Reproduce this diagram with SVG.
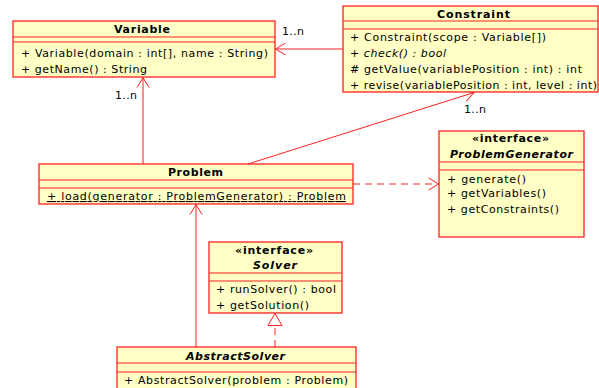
<svg xmlns="http://www.w3.org/2000/svg" width="599" height="388" viewBox="0 0 599 388">
<defs>
<style>
.box{fill:#FFFFC6;stroke:#FF2020;stroke-width:1.3}
.sep{stroke:#FF2020;stroke-width:1.2;fill:none}
.t{font-family:"DejaVu Sans",sans-serif;font-size:11px;fill:#000}
.b{font-weight:bold}
.i{font-style:italic}
.m{text-anchor:middle}
.e{stroke:#FF2020;stroke-width:1;fill:none}
.d{stroke-dasharray:7,5}
</style>
<marker id="open" markerUnits="userSpaceOnUse" viewBox="-11 -7 12 14" refX="0" refY="0" markerWidth="12" markerHeight="14" orient="auto">
<path d="M-10,-6 L0,0 L-10,6" fill="none" stroke="#FF2020" stroke-width="1"/>
</marker>
<marker id="tri" markerUnits="userSpaceOnUse" viewBox="-14 -9 15 18" refX="0" refY="0" markerWidth="15" markerHeight="18" orient="auto">
<path d="M-12,-7 L0,0 L-12,7 Z" fill="#fff" stroke="#FF2020" stroke-width="1"/>
</marker>
</defs>
<rect width="599" height="388" fill="#fff"/>
<g id="connectors">
<line class="e" x1="343" y1="49" x2="275.5" y2="49" marker-end="url(#open)"/>
<text class="t" x="282" y="35" textLength="22" lengthAdjust="spacing">1..n</text>
<line class="e" x1="143" y1="164" x2="143" y2="77.5" marker-end="url(#open)"/>
<text class="t" x="115" y="99" textLength="22" lengthAdjust="spacing">1..n</text>
<line class="e" x1="248" y1="164" x2="474" y2="92.5" marker-end="url(#open)"/>
<text class="t" x="464" y="113" textLength="22" lengthAdjust="spacing">1..n</text>
<line class="e d" x1="353" y1="184" x2="438.5" y2="184" marker-end="url(#open)"/>
<line class="e" x1="196" y1="347" x2="196" y2="204.5" marker-end="url(#open)"/>
<line class="e d" x1="275" y1="347" x2="275" y2="313.5" marker-end="url(#tri)"/>
</g>
<g id="Variable">
<rect class="box" x="13" y="21" width="262" height="56"/>
<line class="sep" x1="13" y1="37" x2="275" y2="37"/>
<line class="sep" x1="13" y1="42" x2="275" y2="42"/>
<text class="t b" x="114" y="33" textLength="56" lengthAdjust="spacing">Variable</text>
<text class="t" x="21" y="57" textLength="247" lengthAdjust="spacing">+ Variable(domain : int[], name : String)</text>
<text class="t" x="21" y="73" textLength="126" lengthAdjust="spacing">+ getName() : String</text>
</g>
<g id="Constraint">
<rect class="box" x="343" y="6" width="255" height="86"/>
<line class="sep" x1="343" y1="21" x2="598" y2="21"/>
<line class="sep" x1="343" y1="29" x2="598" y2="29"/>
<text class="t b" x="437" y="18" textLength="73" lengthAdjust="spacing">Constraint</text>
<text class="t" x="350" y="41" textLength="196" lengthAdjust="spacing">+ Constraint(scope : Variable[])</text>
<text class="t i" x="350" y="57" textLength="96" lengthAdjust="spacing">+ check() : bool</text>
<text class="t" x="350" y="73" textLength="232" lengthAdjust="spacing"># getValue(variablePosition : int) : int</text>
<text class="t" x="350" y="89" textLength="247" lengthAdjust="spacing">+ revise(variablePosition : int, level : int)</text>
</g>
<g id="Problem">
<rect class="box" x="39" y="164" width="314" height="40"/>
<line class="sep" x1="39" y1="180" x2="353" y2="180"/>
<line class="sep" x1="39" y1="188" x2="353" y2="188"/>
<text class="t b" x="168" y="176" textLength="55" lengthAdjust="spacing">Problem</text>
<text class="t" x="47" y="200" textLength="299" lengthAdjust="spacing" text-decoration="underline">+ load(generator : ProblemGenerator) : Problem</text>
</g>
<g id="ProblemGenerator">
<rect class="box" x="439" y="131" width="145" height="106"/>
<line class="sep" x1="439" y1="162" x2="584" y2="162"/>
<line class="sep" x1="439" y1="170" x2="584" y2="170"/>
<text class="t b" x="472" y="142" textLength="77" lengthAdjust="spacing">«interface»</text>
<text class="t b i" x="450" y="158" textLength="123" lengthAdjust="spacing">ProblemGenerator</text>
<text class="t" x="447" y="183" textLength="79" lengthAdjust="spacing">+ generate()</text>
<text class="t" x="447" y="197" textLength="99" lengthAdjust="spacing">+ getVariables()</text>
<text class="t" x="447" y="213" textLength="112" lengthAdjust="spacing">+ getConstraints()</text>
</g>
<g id="Solver">
<rect class="box" x="209" y="242" width="133" height="71"/>
<line class="sep" x1="209" y1="273" x2="342" y2="273"/>
<line class="sep" x1="209" y1="281" x2="342" y2="281"/>
<text class="t b" x="235" y="254" textLength="78" lengthAdjust="spacing">«interface»</text>
<text class="t b i" x="253" y="269" textLength="44" lengthAdjust="spacing">Solver</text>
<text class="t" x="216" y="293" textLength="120" lengthAdjust="spacing">+ runSolver() : bool</text>
<text class="t" x="216" y="309" textLength="93" lengthAdjust="spacing">+ getSolution()</text>
</g>
<g id="AbstractSolver">
<rect class="box" x="117" y="347" width="239" height="50"/>
<line class="sep" x1="117" y1="363" x2="356" y2="363"/>
<line class="sep" x1="117" y1="372" x2="356" y2="372"/>
<text class="t b i" x="186" y="360" textLength="99" lengthAdjust="spacing">AbstractSolver</text>
<text class="t" x="124" y="384" textLength="224" lengthAdjust="spacing">+ AbstractSolver(problem : Problem)</text>
</g>
</svg>
